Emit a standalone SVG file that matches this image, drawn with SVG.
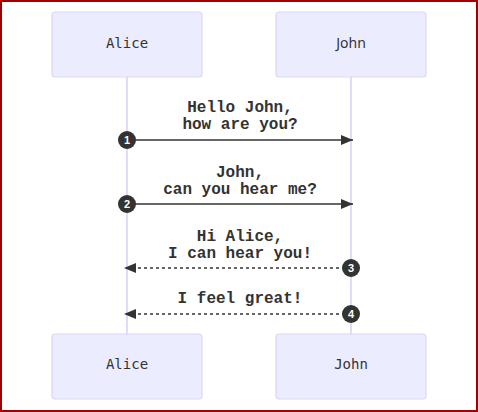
<svg xmlns="http://www.w3.org/2000/svg" width="478" height="412" viewBox="0 0 478 412">
<style>
.actor{fill:#ECECFF;stroke:#ddd5f7;stroke-width:1.2}
.life{stroke:#d9cff5;stroke-width:1.5}
.mono{font-family:"DejaVu Sans Mono","Liberation Mono",monospace;font-size:14px;fill:#333;text-anchor:middle}
.sans{font-family:"Noto Sans","Liberation Sans",sans-serif;font-size:14px;fill:#333;text-anchor:middle}
.msg{font-family:"Liberation Mono","DejaVu Sans Mono",monospace;font-size:16px;font-weight:bold;fill:#333;text-anchor:middle}
.line{stroke:#333;stroke-width:1.5;fill:none}
.dot{stroke-dasharray:3,3}
.num{fill:#333}
.numt{font-family:"Liberation Sans",sans-serif;font-size:11px;fill:#fff;text-anchor:middle;font-weight:bold}
</style>
<defs>
<marker id="ah" viewBox="0 0 12 10" refX="12" refY="5" markerWidth="12" markerHeight="10" markerUnits="userSpaceOnUse" orient="auto">
<path d="M0,0 L12,5 L0,10 z" fill="#333"/>
</marker>
</defs>
<rect x="1" y="1" width="476" height="410" fill="#fff" stroke="#a00000" stroke-width="2"/>
<g id="lifelines">
<line class="life" x1="127" y1="77" x2="127" y2="334"/>
<line class="life" x1="351" y1="77" x2="351" y2="334"/>
</g>
<g id="alice-top"><rect class="actor" x="52" y="12" width="150" height="65" rx="3"/><text class="mono" x="127" y="48">Alice</text></g>
<g id="john-top"><rect class="actor" x="276" y="12" width="150" height="65" rx="3"/><text class="sans" x="351" y="48">John</text></g>
<g id="alice-bottom"><rect class="actor" x="52" y="334" width="150" height="65" rx="3"/><text class="mono" x="127" y="369">Alice</text></g>
<g id="john-bottom"><rect class="actor" x="276" y="334" width="150" height="65" rx="3"/><text class="mono" x="351" y="369">John</text></g>
<g id="connectors">
<line class="line" x1="127" y1="140" x2="353" y2="140" marker-end="url(#ah)"/>
<line class="line" x1="127" y1="204" x2="353" y2="204" marker-end="url(#ah)"/>
<line class="line dot" x1="351" y1="268" x2="124" y2="268" marker-end="url(#ah)"/>
<line class="line dot" x1="351" y1="314" x2="124" y2="314" marker-end="url(#ah)"/>
<text class="msg" x="240" y="112">Hello John,</text>
<text class="msg" x="240" y="129">how are you?</text>
<text class="msg" x="240" y="177">John,</text>
<text class="msg" x="240" y="194">can you hear me?</text>
<text class="msg" x="240" y="241">Hi Alice,</text>
<text class="msg" x="240" y="258">I can hear you!</text>
<text class="msg" x="240" y="303">I feel great!</text>
<circle class="num" cx="127" cy="140" r="9"/><text class="numt" x="127" y="144">1</text>
<circle class="num" cx="127" cy="204" r="9"/><text class="numt" x="127" y="208">2</text>
<circle class="num" cx="351" cy="268" r="9"/><text class="numt" x="351" y="272">3</text>
<circle class="num" cx="351" cy="314" r="9"/><text class="numt" x="351" y="318">4</text>
</g>
</svg>
